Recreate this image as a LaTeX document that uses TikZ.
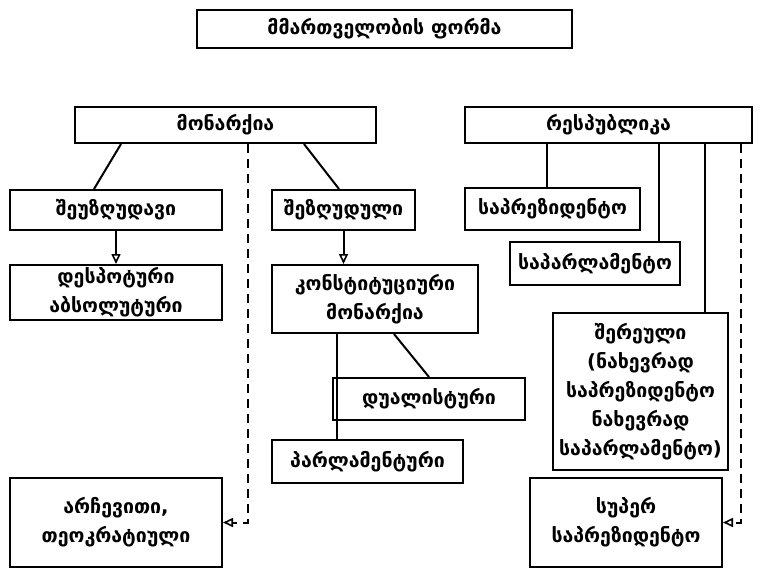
\documentclass[tikz,border=0pt]{standalone}
\usepackage{fontspec}
\setmainfont{DejaVu Sans}
\usetikzlibrary{arrows.meta,calc}
\begin{document}
\begin{tikzpicture}[x=1pt,y=-1pt,
  box/.style={draw,line width=2pt,align=center,inner sep=2pt,font=\bfseries\fontsize{19.5}{29}\selectfont},
  conn/.style={line width=2pt},
  dconn/.style={line width=2pt,dash pattern=on 9pt off 6pt},
  tip/.style={-{Triangle[open,length=10pt,width=9pt,line width=1.6pt]}}]
\fill[white] (0,0) rectangle (763,570);
\useasboundingbox (0,0) rectangle (763,570);
\node[box,minimum width=375pt,minimum height=38pt] (title) at (384.5,29) {მმართველობის ფორმა};
\node[box,minimum width=301pt,minimum height=36pt] (mon) at (225.5,125) {მონარქია};
\node[box,minimum width=287pt,minimum height=36pt] (rep) at (608.5,125) {რესპუბლიკა};
\node[box,minimum width=212pt,minimum height=40pt] (unl) at (116,210) {შეუზღუდავი};
\node[box,minimum width=212pt,minimum height=55pt] (desp) at (116,292.5) {დესპოტური\\აბსოლუტური};
\node[box,minimum width=143pt,minimum height=40pt] (lim) at (343.5,210) {შეზღუდული};
\node[box,minimum width=206pt,minimum height=68pt] (const) at (375,299) {კონსტიტუციური\\მონარქია};
\node[box,minimum width=192pt,minimum height=42pt] (dual) at (429,399) {დუალისტური};
\node[box,minimum width=191pt,minimum height=43pt] (parl) at (367.5,461.5) {პარლამენტური};
\node[box,minimum width=212pt,minimum height=89pt] (elect) at (116,522.5) {არჩევითი,\\თეოკრატიული};
\node[box,minimum width=175pt,minimum height=42pt] (pres) at (552.5,209) {საპრეზიდენტო};
\node[box,minimum width=170pt,minimum height=43pt] (parlrep) at (595,263.5) {საპარლამენტო};
\node[box,minimum width=175pt,minimum height=157pt] (mixed) at (640.5,391.5) {შერეული\\(ნახევრად\\საპრეზიდენტო\\ნახევრად\\საპარლამენტო)};
\node[box,minimum width=192pt,minimum height=89pt] (super) at (626,522.5) {სუპერ\\საპრეზიდენტო};
% monarchy connectors
\draw[conn] ($(mon.south west)+(47,0)$) -- ($(unl.north west)+(85,0)$);
\draw[conn] ($(mon.south west)+(230,0)$) -- ($(lim.north west)+(68,0)$);
\coordinate (md) at ($(mon.south west)+(174,0)$);
\draw[dconn,tip] (md) |- (elect.east);
\draw[conn,tip] (unl.south) -- (desp.north);
\draw[conn,tip] (lim.south) -- (lim.south |- const.north);
\coordinate (cp) at ($(const.south west)+(66,0)$);
\draw[conn] (cp) -- (cp |- parl.north);
\draw[conn] ($(const.south west)+(123,0)$) -- ($(dual.north west)+(97,0)$);
% republic connectors
\coordinate (r1) at ($(rep.south west)+(83,0)$);
\coordinate (r2) at ($(rep.south west)+(195,0)$);
\coordinate (r3) at ($(rep.south west)+(241,0)$);
\coordinate (r4) at ($(rep.south west)+(277,0)$);
\draw[conn] (r1) -- (r1 |- pres.north);
\draw[conn] (r2) -- (r2 |- parlrep.north);
\draw[conn] (r3) -- (r3 |- mixed.north);
\draw[dconn,tip] (r4) |- (super.east);
\end{tikzpicture}
\end{document}
